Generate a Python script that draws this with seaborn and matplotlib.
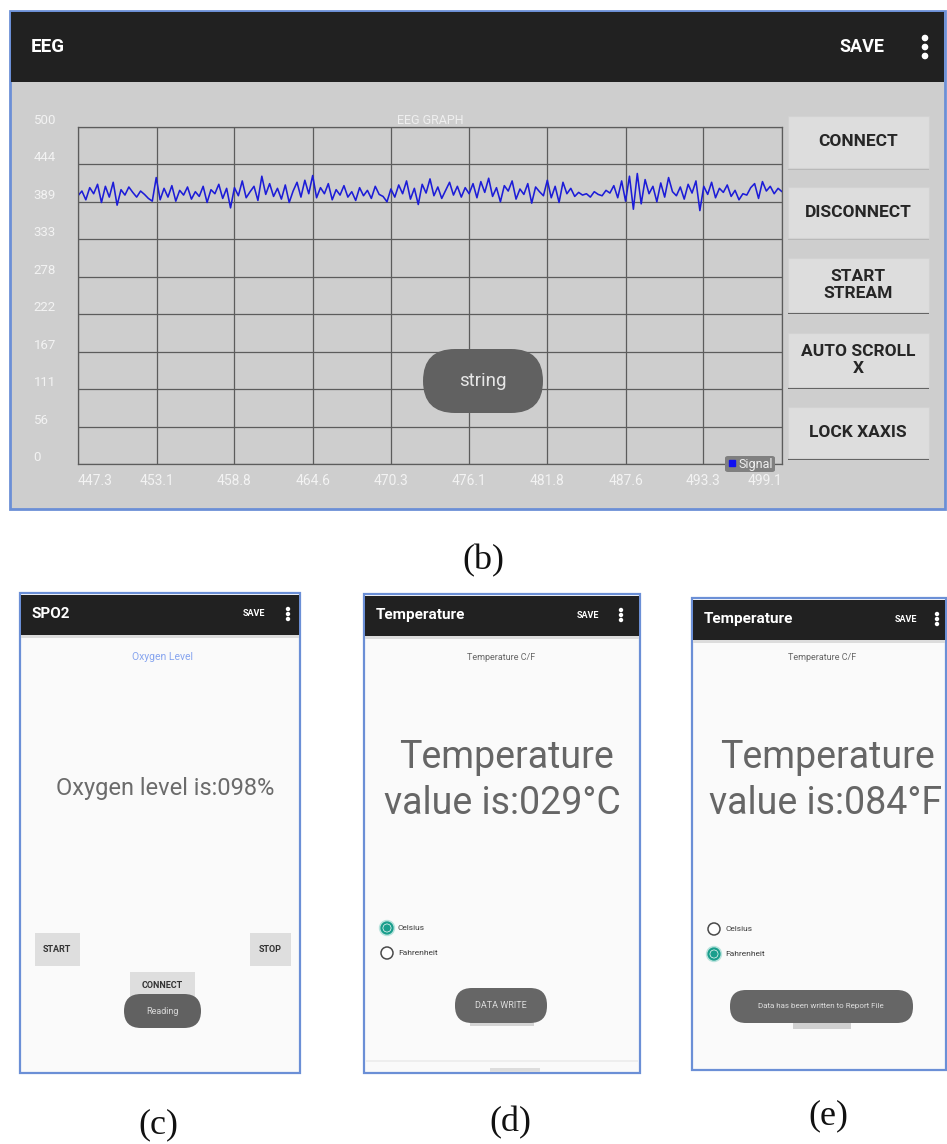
import numpy as np
import matplotlib
matplotlib.use("Agg")
import matplotlib.pyplot as plt
import seaborn as sns
from matplotlib.patches import Rectangle, FancyBboxPatch, Circle
from matplotlib.lines import Line2D

W, H = 947, 1144

# EEG samples (one list, left to right)
eeg_signal = [
    398, 405, 392, 410, 401, 415, 388, 412, 396, 418, 384, 407, 399, 411, 403, 396, 405, 400, 394, 390,
    425, 392, 409, 396, 413, 390, 406, 399, 411, 393, 404, 397, 412, 388, 407, 401, 415, 394, 409, 380,
    410, 398, 420, 395, 404, 412, 391, 427, 400, 416, 397, 409, 393, 414, 388, 405, 418, 396, 421, 401,
    428, 395, 410, 401, 416, 392, 407, 399, 413, 396, 404, 391, 410, 398, 406, 394, 412, 400, 397, 389,
    408, 396, 414, 401, 420, 393, 409, 385, 415, 402, 423, 398, 411, 394, 406, 418, 399, 412, 396, 410,
    401, 416, 395, 419, 403, 424, 397, 410, 389, 413, 405, 420, 393, 408, 400, 416, 387, 411, 404, 398,
    421, 395, 412, 388, 418, 401, 409, 397, 403, 399, 401, 396, 404, 400, 398, 406, 402, 413, 395, 420,
    390, 427, 378, 431, 386, 422, 401, 412, 389, 417, 396, 425, 404, 398, 411, 393, 415, 402, 420, 376,
    412, 400, 418, 395, 409, 403, 414, 397, 406, 392, 401, 399, 410, 416, 394, 419, 405, 412, 401, 409, 404,
]
x_ticks = [447.3, 453.1, 458.8, 464.6, 470.3, 476.1, 481.8, 487.6, 493.3, 499.1]
y_ticks = [0, 55.6, 111.1, 166.7, 222.2, 277.8, 333.3, 388.9, 444.4, 500]
y_tick_labels = ["0", "56", "111", "167", "222", "278", "333", "389", "444", "500"]

eeg_buttons = ["CONNECT", "DISCONNECT", "START\nSTREAM", "AUTO SCROLL\nX", "LOCK XAXIS"]
panel_letters = ["(b)", "(c)", "(d)", "(e)"]

sns.set_style("white")
plt.rcParams["font.family"] = ["Roboto", "DejaVu Sans"]

fig = plt.figure(figsize=(W / 100, H / 100), dpi=100)
fig.patch.set_facecolor("white")


def canvas(z):
    ax = fig.add_axes([0, 0, 1, 1], zorder=z)
    ax.set_xlim(0, W)
    ax.set_ylim(H, 0)
    ax.axis("off")
    ax.patch.set_alpha(0)
    return ax


bg = canvas(0)
fg = canvas(3)

PANEL = "#cecece"
HEAD = "#212121"
EDGE = "#6b8fd6"


def box(ax, x0, y0, x1, y1, fc, ec="none", lw=0, r=0, z=1):
    if r:
        p = FancyBboxPatch((x0, y0), x1 - x0, y1 - y0,
                           boxstyle=f"round,pad=0,rounding_size={r}",
                           fc=fc, ec=ec, lw=lw, zorder=z)
    else:
        p = Rectangle((x0, y0), x1 - x0, y1 - y0, fc=fc, ec=ec, lw=lw, zorder=z)
    ax.add_patch(p)


def dots(ax, x, yc, r=2.2, gap=7):
    for dy in (-gap, 0, gap):
        ax.add_patch(Circle((x, yc + dy), r, color="white", zorder=3))


# ---------- panel (b): EEG screen ----------
box(bg, 10, 11, 945, 509, PANEL, ec=EDGE, lw=2)
box(bg, 11, 12, 944, 82, HEAD, z=2)
fg.text(31, 47, "EEG", color="white", fontsize=13.5, weight="bold", va="center")
fg.text(862, 47, "SAVE", color="white", fontsize=13, weight="bold", va="center", ha="center")
dots(fg, 925, 47, r=2.6, gap=9)

btn_rows = [(116, 168), (187, 238), (258, 312), (333, 387), (407, 458)]
for i, (label, (y0, y1)) in enumerate(zip(eeg_buttons, btn_rows)):
    shade = "#b8b8b8" if i < 2 else "#5e5e5e"
    box(bg, 788, y0 + 2, 929, y1 + 2, shade, z=2)
    box(bg, 788, y0, 929, y1, "#dddddd", ec="#d2d2d2", lw=0.8, z=3)
    fg.text(858, (y0 + y1) / 2, label, color="#262626", fontsize=12.5, weight="bold",
            ha="center", va="center", linespacing=1.1)

ax = fig.add_axes([78 / W, 1 - 464 / H, 704 / W, 337 / H], zorder=1)
ax.set_facecolor(PANEL)
eeg_time = np.linspace(x_ticks[0], x_ticks[-1], len(eeg_signal))
sns.lineplot(x=eeg_time, y=eeg_signal, ax=ax, color="#1c1cd8", linewidth=1.15, legend=False)
ax.set_xlim(x_ticks[0], x_ticks[-1])
ax.set_ylim(0, 500)
ax.set_xticks(x_ticks)
ax.set_xticklabels([f"{v:.1f}" for v in x_ticks])
ax.set_yticks(y_ticks)
ax.set_yticklabels(y_tick_labels)
ax.grid(True, color="#5c5c5c", linewidth=0.9)
for s in ax.spines.values():
    s.set_color("#5c5c5c")
    s.set_linewidth(0.9)
ax.tick_params(axis="x", length=0, pad=7, labelsize=10, labelcolor="#f3f3f3")
ax.tick_params(axis="y", length=0, pad=32, labelsize=9.5, labelcolor="#f3f3f3")
for t in ax.get_yticklabels():
    t.set_ha("left")
    t.set_va("bottom")
xt = ax.get_xticklabels()
xt[0].set_ha("left")
xt[-1].set_ha("right")
ax.set_xlabel("")
ax.set_ylabel("")
leg = ax.legend(handles=[Line2D([0], [0], marker="s", ls="none", color="#1010f0", markersize=5)],
                labels=["Signal"], loc="lower right", bbox_to_anchor=(0.99, -0.025),
                fontsize=9, labelcolor="#f0f0f0", frameon=True, fancybox=True,
                borderpad=0.15, handletextpad=0.2, handlelength=0.7, borderaxespad=0)
leg.get_frame().set_facecolor("#808080")
leg.get_frame().set_edgecolor("none")
leg.get_frame().set_alpha(1)

fg.text(430, 120, "EEG GRAPH", color="#efefef", fontsize=9, ha="center", va="center")
box(fg, 423, 349, 543, 413, "#616161", r=32)
fg.text(483, 381, "string", color="#e6e6e6", fontsize=13.5, ha="center", va="center")


# ---------- phone screens ----------
def phone(x0, x1, y0, y1, title, save_x, dot_x):
    box(bg, x0, y0, x1, y1, "#fafafa", ec=EDGE, lw=1.6)
    box(bg, x0 + 1, y0 + 2, x1 - 1, y0 + 42, HEAD, z=2)
    box(bg, x0 + 1, y0 + 42, x1 - 1, y0 + 45, "#dcdcdc", z=2)
    yc = y0 + 21
    fg.text(x0 + 12, yc, title, color="white", fontsize=11, weight="bold", va="center")
    fg.text(save_x, yc, "SAVE", color="white", fontsize=6.5, weight="bold", ha="center", va="center")
    dots(fg, dot_x, yc, r=1.5, gap=5)


def radio(x, y, text, on):
    if on:
        fg.add_patch(Circle((x, y), 7.5, color="#b9e3dd", zorder=3))
        fg.add_patch(Circle((x, y), 5.5, fc="white", ec="#1a9e8c", lw=1.6, zorder=4))
        fg.add_patch(Circle((x, y), 3, color="#1a9e8c", zorder=5))
    else:
        fg.add_patch(Circle((x, y), 6, fc="white", ec="#4a4a4a", lw=1.1, zorder=4))
    fg.text(x + 11, y, text, color="#3a3a3a", fontsize=6, va="center")


# (c) SPO2
phone(20, 300, 593, 1073, "SPO2", 254, 288)
fg.text(162, 657, "Oxygen Level", color="#86a4ef", fontsize=7.5, ha="center", va="center")
fg.text(165, 788, "Oxygen level is:098%", color="#6b6b6b", fontsize=17, ha="center", va="center")
box(bg, 35, 933, 80, 966, "#dedede", z=2)
fg.text(57, 949, "START", color="#333333", fontsize=6.5, weight="bold", ha="center", va="center")
box(bg, 250, 933, 291, 966, "#dedede", z=2)
fg.text(270, 949, "STOP", color="#333333", fontsize=6.5, weight="bold", ha="center", va="center")
box(bg, 130, 972, 195, 1002, "#dedede", z=2)
fg.text(162, 986, "CONNECT", color="#333333", fontsize=6.5, weight="bold", ha="center", va="center")
box(fg, 124, 994, 201, 1028, "#616161", r=17)
fg.text(162, 1011, "Reading", color="#d8d8d8", fontsize=6.5, ha="center", va="center")

# (d) Celsius
phone(364, 640, 594, 1073, "Temperature", 588, 621)
fg.text(501, 657, "Temperature C/F", color="#666666", fontsize=6.5, ha="center", va="center")
fg.text(506, 757, "Temperature", color="#666666", fontsize=27, ha="center", va="center")
fg.text(502, 803, "value is:029°C", color="#666666", fontsize=27, ha="center", va="center")
radio(387, 928, "Celsius", True)
radio(387, 953, "Fahrenheit", False)
box(bg, 470, 1000, 534, 1026, "#d4d4d4", z=2)
box(fg, 455, 988, 547, 1023, "#666666", r=17)
fg.text(501, 1005, "DATA WRITE", color="#dddddd", fontsize=6.5, ha="center", va="center")
box(bg, 366, 1060, 638, 1062, "#eeeeee", z=2)
box(bg, 490, 1068, 540, 1072, "#dddddd", z=2)

# (e) Fahrenheit
phone(692, 946, 598, 1070, "Temperature", 906, 937)
fg.text(822, 658, "Temperature C/F", color="#666666", fontsize=6.5, ha="center", va="center")
fg.text(827, 757, "Temperature", color="#666666", fontsize=27, ha="center", va="center")
fg.text(826, 803, "value is:084°F", color="#666666", fontsize=27, ha="center", va="center")
radio(714, 929, "Celsius", False)
radio(714, 954, "Fahrenheit", True)
box(bg, 793, 1000, 851, 1029, "#d0d0d0", z=2)
box(fg, 730, 990, 913, 1023, "#666666", r=16)
fg.text(821, 1006, "Data has been written to Report File", color="#dddddd", fontsize=5.8,
        ha="center", va="center")

# panel letters
for (x, y), s in zip([(483, 561), (158, 1125), (510, 1123), (828, 1116)], panel_letters):
    fg.text(x, y, s, fontsize=26, family="Liberation Serif", color="#111111",
            ha="center", va="center")

fig.savefig("out.png", dpi=100)
